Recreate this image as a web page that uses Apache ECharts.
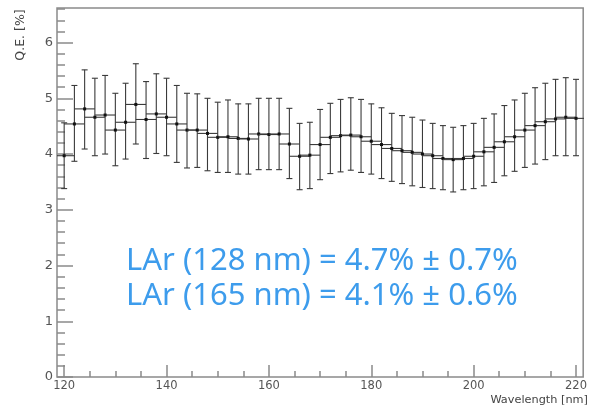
<!DOCTYPE html>
<html>
<head>
<meta charset="utf-8">
<script src="https://cdn.jsdelivr.net/npm/echarts@6/dist/echarts.min.js"></script>
<style>
  html, body { margin: 0; padding: 0; background: #ffffff; }
  #chart { width: 590px; height: 408px; }
</style>
</head>
<body>
<div id="chart"></div>
<script>
// ---- data ----
const wavelengths = [120,122,124,126,128,130,132,134,136,138,140,142,144,146,148,150,152,154,156,158,160,162,164,166,168,170,172,174,176,178,180,182,184,186,188,190,192,194,196,198,200,202,204,206,208,210,212,214,216,218,220];
const qe = [3.97,4.54,4.81,4.66,4.70,4.43,4.57,4.89,4.62,4.72,4.66,4.54,4.43,4.43,4.37,4.30,4.31,4.28,4.27,4.36,4.35,4.36,4.18,3.96,3.98,4.17,4.30,4.33,4.34,4.31,4.23,4.17,4.10,4.06,4.03,4.00,3.97,3.92,3.90,3.92,3.96,4.04,4.12,4.22,4.31,4.43,4.51,4.58,4.63,4.66,4.64];
const qeHigh = [4.56,5.23,5.51,5.36,5.41,5.09,5.27,5.62,5.30,5.44,5.36,5.23,5.09,5.08,5.00,4.93,4.97,4.90,4.90,5.00,5.00,5.00,4.82,4.55,4.57,4.80,4.91,4.98,5.01,4.98,4.90,4.83,4.73,4.69,4.66,4.61,4.55,4.51,4.48,4.51,4.55,4.64,4.72,4.87,4.97,5.09,5.19,5.27,5.34,5.37,5.34];
const qeLow = [3.38,3.87,4.09,3.97,4.00,3.79,3.91,4.18,3.92,4.01,3.97,3.85,3.75,3.76,3.70,3.67,3.67,3.64,3.64,3.72,3.72,3.72,3.56,3.36,3.38,3.54,3.65,3.68,3.71,3.67,3.64,3.56,3.51,3.47,3.43,3.40,3.38,3.36,3.32,3.36,3.38,3.43,3.49,3.61,3.69,3.76,3.82,3.90,3.97,3.97,3.97];
const xHalfWidth = 2; // horizontal error (nm)

const xMajorTicks = [120,140,160,180,200,220];
const xMinorTicks = [125,130,135,145,150,155,165,170,175,185,190,195,205,210,215];
const yMajorTicks = [0,1,2,3,4,5,6];
const yMinorTicks = [];
for (let i = 0; i <= 33; i++) { if (i % 5 !== 0) yMinorTicks.push(+(i * 0.2).toFixed(1)); }

const xRange = [118.6, 221.4];
const yRange = [0, 6.62];

const xTitle = 'Wavelength [nm]';
const yTitle = 'Q.E. [%]';
const annotations = ['LAr (128 nm) = 4.7% \u00b1 0.7%', 'LAr (165 nm) = 4.1% \u00b1 0.6%'];

// ---- chart ----
const chart = echarts.init(document.getElementById('chart'), null, { renderer: 'canvas' });

const axisGray = '#8a8a8a';
const labelGray = '#555555';
const fontFam = '"DejaVu Sans", sans-serif';

const seriesData = wavelengths.map((w, i) => [w, qe[i], qeLow[i], qeHigh[i]]);

function renderItem(params, api) {
  const x = api.value(0), y = api.value(1), lo = api.value(2), hi = api.value(3);
  const p = api.coord([x, y]);
  const pl = api.coord([x - xHalfWidth, y]);
  const pr = api.coord([x + xHalfWidth, y]);
  const pt = api.coord([x, hi]);
  const pb = api.coord([x, lo]);
  const cap = 3;
  const st = { stroke: '#3a3a3a', lineWidth: 1.1, fill: null };
  return {
    type: 'group',
    children: [
      { type: 'line', shape: { x1: pl[0], y1: p[1], x2: pr[0], y2: p[1] }, style: st },
      { type: 'line', shape: { x1: p[0], y1: pt[1], x2: p[0], y2: pb[1] }, style: st },
      { type: 'line', shape: { x1: p[0] - cap, y1: pt[1], x2: p[0] + cap, y2: pt[1] }, style: st },
      { type: 'line', shape: { x1: p[0] - cap, y1: pb[1], x2: p[0] + cap, y2: pb[1] }, style: st },
      { type: 'rect', shape: { x: p[0] - 1.5, y: p[1] - 1.5, width: 3, height: 3 }, style: { fill: '#111' } }
    ]
  };
}

const option = {
  animation: false,
  backgroundColor: '#ffffff',
  grid: {
    left: 57, right: 3, top: 8, bottom: 31,
    show: true, borderColor: axisGray, borderWidth: 1.5, backgroundColor: 'transparent'
  },
  xAxis: [
    {
      type: 'value', min: xRange[0], max: xRange[1], position: 'bottom',
      axisLine: { show: false },
      splitLine: { show: false },
      axisTick: { show: true, inside: true, length: 12, customValues: xMajorTicks, lineStyle: { color: axisGray, width: 1.5 } },
      axisLabel: { show: true, customValues: xMajorTicks, margin: 3, color: labelGray, fontSize: 11.5, fontFamily: fontFam }
    },
    {
      type: 'value', min: xRange[0], max: xRange[1], position: 'bottom',
      axisLine: { show: false },
      splitLine: { show: false },
      axisTick: { show: true, inside: true, length: 6, customValues: xMinorTicks, lineStyle: { color: axisGray, width: 1.5 } },
      axisLabel: { show: false }
    }
  ],
  yAxis: [
    {
      type: 'value', min: yRange[0], max: yRange[1], position: 'left',
      axisLine: { show: false },
      splitLine: { show: false },
      axisTick: { show: true, inside: true, length: 16, customValues: yMajorTicks, lineStyle: { color: axisGray, width: 1.5 } },
      axisLabel: { show: true, customValues: yMajorTicks, margin: 4, color: labelGray, fontSize: 13, fontFamily: fontFam }
    },
    {
      type: 'value', min: yRange[0], max: yRange[1], position: 'left',
      axisLine: { show: false },
      splitLine: { show: false },
      axisTick: { show: true, inside: true, length: 8, customValues: yMinorTicks, lineStyle: { color: axisGray, width: 1.5 } },
      axisLabel: { show: false }
    }
  ],
  series: [
    {
      type: 'custom',
      xAxisIndex: 0, yAxisIndex: 0,
      clip: true,
      renderItem: renderItem,
      data: seriesData,
      z: 3
    }
  ],
  graphic: [
    {
      type: 'text', x: 588, y: 400,
      style: { text: xTitle, align: 'right', verticalAlign: 'middle', fill: '#444', font: '11.3px "DejaVu Sans", sans-serif' }
    },
    {
      type: 'text', x: 21, y: 35, rotation: Math.PI / 2,
      style: { text: yTitle, align: 'center', verticalAlign: 'middle', fill: '#444', font: '12.5px "DejaVu Sans", sans-serif' }
    },
    {
      type: 'text', x: 126, y: 261,
      style: { text: annotations[0], align: 'left', verticalAlign: 'middle', fill: '#3d9cec', font: '31px "Noto Sans", sans-serif' }
    },
    {
      type: 'text', x: 126, y: 296,
      style: { text: annotations[1], align: 'left', verticalAlign: 'middle', fill: '#3d9cec', font: '31px "Noto Sans", sans-serif' }
    }
  ]
};

chart.setOption(option);
</script>
</body>
</html>
